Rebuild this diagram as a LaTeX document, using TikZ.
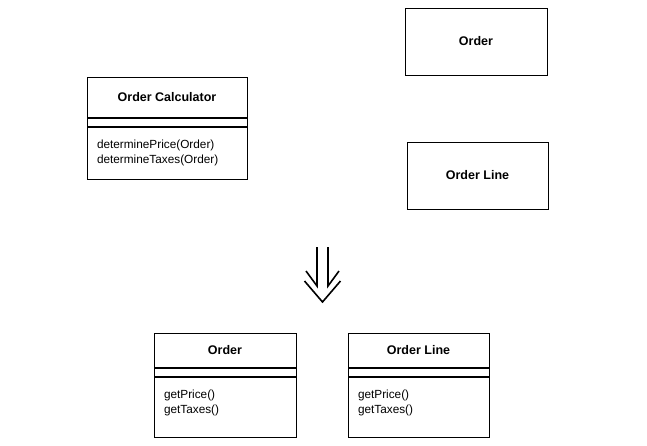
\documentclass[tikz,border=0pt]{standalone}
\usepackage{fontspec}
\setmainfont{Liberation Sans}
\usetikzlibrary{positioning}

\begin{document}
\begin{tikzpicture}[x=1pt,y=-1pt,line width=1pt,node distance=0pt,
    head/.style={rectangle,draw,inner sep=0pt,font=\fontsize{12.5}{15}\selectfont\bfseries},
    attr/.style={rectangle,draw,inner sep=0pt,minimum height=8pt},
    ops/.style={rectangle,draw,inner xsep=10pt,inner ysep=0pt,align=left,font=\fontsize{11.8}{15}\selectfont},
    implies/.style={line width=1.6pt,line join=miter}]

  \useasboundingbox (0,0) rectangle (647,445);

  % before
  \node[head,minimum width=160pt,minimum height=40pt] (calc) at (167,97) {Order Calculator};
  \node[attr,minimum width=160pt]  (calcattr) [below=of calc] {};
  \node[ops,text width=140pt,minimum height=52pt] (calcops) [below=of calcattr]
       {determinePrice(Order)\\determineTaxes(Order)};

  \node[head,minimum width=142pt,minimum height=67pt] (order) at (476,41.5) {Order};
  \node[head,minimum width=141pt,minimum height=67pt] (line) at (477.5,175.5) {Order Line};

  % arrow
  \coordinate (arrtop) at (322.5,247);
  \coordinate (arrtip) at (322.5,302);
  \draw[implies] ([xshift=-5.5pt]arrtop) -- ++(0,39) -- ++(-11,-15);
  \draw[implies] ([xshift=5.5pt]arrtop) -- ++(0,39) -- ++(11,-15);
  \draw[implies] ([shift={(-18,-21)}]arrtip) -- (arrtip) -- ++(18,-21);

  % after
  \node[head,minimum width=142pt,minimum height=34pt] (neworder) at (225,350) {Order};
  \node[attr,minimum width=142pt]  (neworderattr) [below=of neworder] {};
  \node[ops,text width=122pt,minimum height=60pt,text depth=26pt] (neworderops) [below=of neworderattr]
       {getPrice()\\getTaxes()};

  \node[head,minimum width=141pt,minimum height=34pt] (newline) at (418.5,350) {Order Line};
  \node[attr,minimum width=141pt]  (newlineattr) [below=of newline] {};
  \node[ops,text width=121pt,minimum height=60pt,text depth=26pt] (newlineops) [below=of newlineattr]
       {getPrice()\\getTaxes()};

\end{tikzpicture}
\end{document}
